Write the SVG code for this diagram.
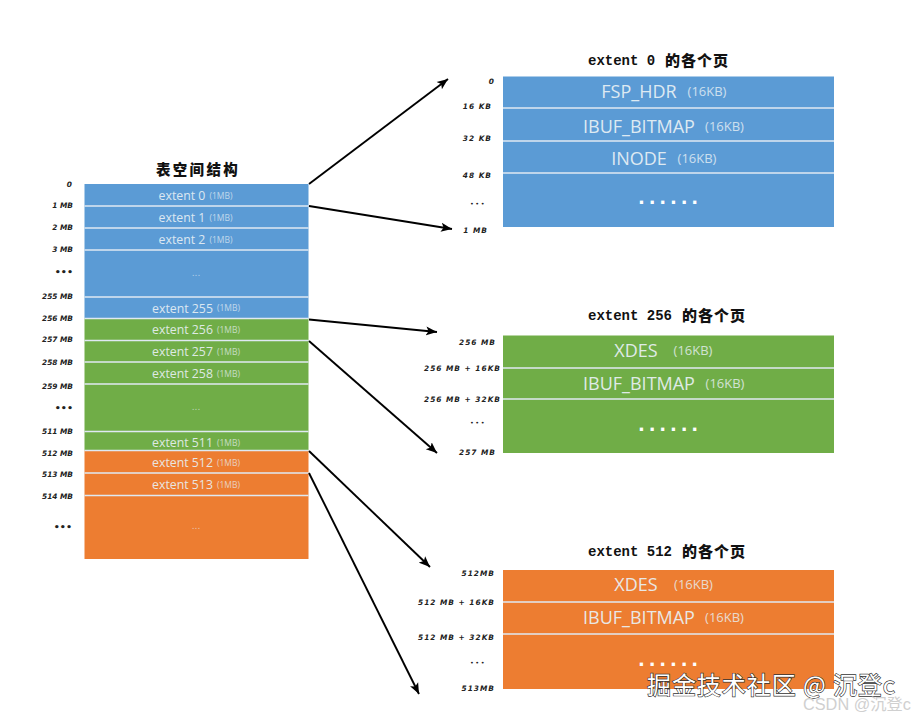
<svg xmlns="http://www.w3.org/2000/svg" width="916" height="720" viewBox="0 0 916 720">
<style>
.b{fill:#5b9bd5}.g{fill:#70ad47}.o{fill:#ed7d31}
.sep{stroke:#dfe9f2;stroke-width:1.3;fill:none}
.t{font-family:"Open Sans","Liberation Sans","Noto Sans CJK SC",sans-serif;fill:#e9f1f5;text-anchor:middle}
.big{font-size:12.3px;opacity:.9}
.sm{font-size:8.5px;opacity:.7}
.p{font-size:18px;opacity:.92}
.ps{font-size:13px;opacity:.8}
.dots{font-family:"DejaVu Sans",sans-serif;font-size:9px;fill:#e9f1f5;text-anchor:middle;opacity:.6}
.pd{font-family:"DejaVu Sans",sans-serif;font-weight:bold;font-size:18px;letter-spacing:3.8px;fill:#fff;text-anchor:middle}
.l{font-family:"DejaVu Sans",sans-serif;font-weight:bold;font-style:italic;font-size:7.4px;fill:#222;text-anchor:end}
.r{letter-spacing:1px}
.ld{font-family:"DejaVu Sans",sans-serif;font-weight:bold;font-size:9.500px;fill:#222;text-anchor:end}
.rd{font-family:"DejaVu Sans",sans-serif;font-size:6.500px;letter-spacing:1.500px;fill:#222;text-anchor:end}
.ti{font-family:"Liberation Mono","Noto Sans CJK SC",monospace;font-weight:bold;font-size:14px;fill:#111}
.cn{font-family:"Noto Sans CJK SC",sans-serif;font-weight:900;font-size:15px;letter-spacing:1px;fill:#111}
.conn{stroke:#000;stroke-width:1.9;fill:none;marker-end:url(#ah)}
</style>
<defs>
<marker id="ah" markerUnits="userSpaceOnUse" markerWidth="12" markerHeight="10" refX="11" refY="5" orient="auto"><path d="M0 0.5L11 5L0 9.5L2.5 5Z" fill="#000"/></marker>
</defs>
<rect width="916" height="720" fill="#fff"/>

<g id="table-space">
<text class="cn" x="156" y="175" style="font-size:14.500px;letter-spacing:2.300px">表空间结构</text>
<rect class="b" x="84.5" y="184" width="224" height="134.500"/>
<rect class="g" x="84.5" y="318.500" width="224" height="132"/>
<rect class="o" x="84.5" y="450.500" width="224" height="108.500"/>
<path class="sep" d="M84.500 206H308.500M84.500 228H308.500M84.500 250H308.500M84.500 297H308.500M84.500 318.500H308.500M84.500 340.500H308.500M84.500 362H308.500M84.500 384H308.500M84.500 431.500H308.500M84.500 450.500H308.500M84.500 473H308.500M84.500 495.500H308.500"/>
<g class="t big">
<text x="182" y="200">extent 0</text><text x="182" y="222">extent 1</text><text x="182" y="244">extent 2</text>
<text x="182.500" y="313">extent 255</text><text x="182.500" y="334">extent 256</text><text x="182.500" y="356">extent 257</text><text x="182.500" y="378">extent 258</text><text x="182.500" y="447">extent 511</text><text x="182.500" y="467">extent 512</text><text x="182.500" y="489">extent 513</text>
</g>
<g class="t sm">
<text x="221" y="198.500">(1MB)</text><text x="221" y="220.500">(1MB)</text><text x="221" y="242.500">(1MB)</text>
<text x="228.500" y="311">(1MB)</text><text x="228.500" y="332.500">(1MB)</text><text x="228.500" y="354.500">(1MB)</text><text x="228.500" y="376.500">(1MB)</text><text x="228.500" y="445.500">(1MB)</text><text x="228.500" y="465.500">(1MB)</text><text x="228.500" y="487.500">(1MB)</text>
</g>
<text class="dots" x="196" y="276">...</text><text class="dots" x="196" y="410">...</text><text class="dots" x="196" y="529">...</text>
<g class="l">
<text x="72" y="187">0</text><text x="73" y="208">1 MB</text><text x="73" y="230">2 MB</text><text x="73" y="252">3 MB</text>
<text x="73" y="299">255 MB</text><text x="73" y="321">256 MB</text><text x="73" y="342">257 MB</text><text x="73" y="365">258 MB</text><text x="73" y="389">259 MB</text><text x="73" y="434">511 MB</text><text x="73" y="456">512 MB</text><text x="73" y="477">513 MB</text><text x="73" y="499">514 MB</text>
</g>
<g class="ld"><text x="73" y="275">•••</text><text x="73" y="411">•••</text><text x="72" y="530">•••</text></g>
</g>

<g id="extent-0">
<text class="ti" x="588" y="65">extent 0</text><text class="cn" x="665" y="66">的各个页</text>
<rect class="b" x="503" y="76.500" width="331" height="150.500"/>
<path class="sep" d="M503 108H834M503 141H834M503 173H834"/>
<g class="t p"><text x="639" y="98">FSP_HDR</text><text x="639" y="133">IBUF_BITMAP</text><text x="639" y="165">INODE</text></g>
<g class="t ps"><text x="707" y="96">(16KB)</text><text x="724.500" y="131">(16KB)</text><text x="697" y="163">(16KB)</text></g>
<text class="pd" x="670" y="204">......</text>
<g class="l r"><text x="495" y="84">0</text><text x="492" y="109">16 KB</text><text x="492" y="141">32 KB</text><text x="492" y="178">48 KB</text><text x="488" y="233">1 MB</text></g>
<text class="rd" x="486" y="206">•••</text>
</g>

<g id="extent-256">
<text class="ti" x="588" y="320">extent 256</text><text class="cn" x="682" y="321">的各个页</text>
<rect class="g" x="503" y="335.500" width="331" height="117.500"/>
<path class="sep" d="M503 368H834M503 399H834"/>
<g class="t p"><text x="636" y="357">XDES</text><text x="639" y="390">IBUF_BITMAP</text></g>
<g class="t ps"><text x="693" y="355">(16KB)</text><text x="725" y="388">(16KB)</text></g>
<text class="pd" x="670" y="431">......</text>
<g class="l r"><text x="496" y="345">256 MB</text><text x="501" y="371">256 MB + 16KB</text><text x="501" y="402">256 MB + 32KB</text><text x="496" y="455">257 MB</text></g>
<text class="rd" x="486" y="425">•••</text>
</g>

<g id="extent-512">
<text class="ti" x="588" y="556">extent 512</text><text class="cn" x="682" y="557">的各个页</text>
<rect class="o" x="503" y="570" width="331" height="119"/>
<path class="sep" d="M503 602H834M503 634H834"/>
<g class="t p"><text x="636" y="591">XDES</text><text x="639" y="624">IBUF_BITMAP</text></g>
<g class="t ps"><text x="693.500" y="589">(16KB)</text><text x="724.500" y="622">(16KB)</text></g>
<text class="pd" x="670" y="666">......</text>
<g class="l r"><text x="495" y="576">512MB</text><text x="495" y="605">512 MB + 16KB</text><text x="495" y="640">512 MB + 32KB</text><text x="495" y="691">513MB</text></g>
<text class="rd" x="486" y="665">•••</text>
</g>

<g id="connectors">
<line class="conn" x1="309" y1="184" x2="448" y2="79"/>
<line class="conn" x1="309" y1="206" x2="452" y2="229"/>
<line class="conn" x1="309" y1="319.500" x2="437" y2="332"/>
<line class="conn" x1="309" y1="341" x2="437" y2="453"/>
<line class="conn" x1="309" y1="451" x2="430" y2="567"/>
<line class="conn" x1="309" y1="473" x2="419" y2="694"/>
</g>

<g id="watermark">
<text x="647" y="694" font-family="'Noto Sans CJK SC',sans-serif" font-size="24" fill="#fff" stroke="#333" stroke-width="1.3" paint-order="stroke" textLength="248">掘金技术社区 @ 沉登c</text>
<text x="803" y="710" font-family="'Liberation Sans','Noto Sans CJK SC',sans-serif" font-size="16.300" fill="#d0d0d0">CSDN @沉登c</text>
</g>
</svg>
